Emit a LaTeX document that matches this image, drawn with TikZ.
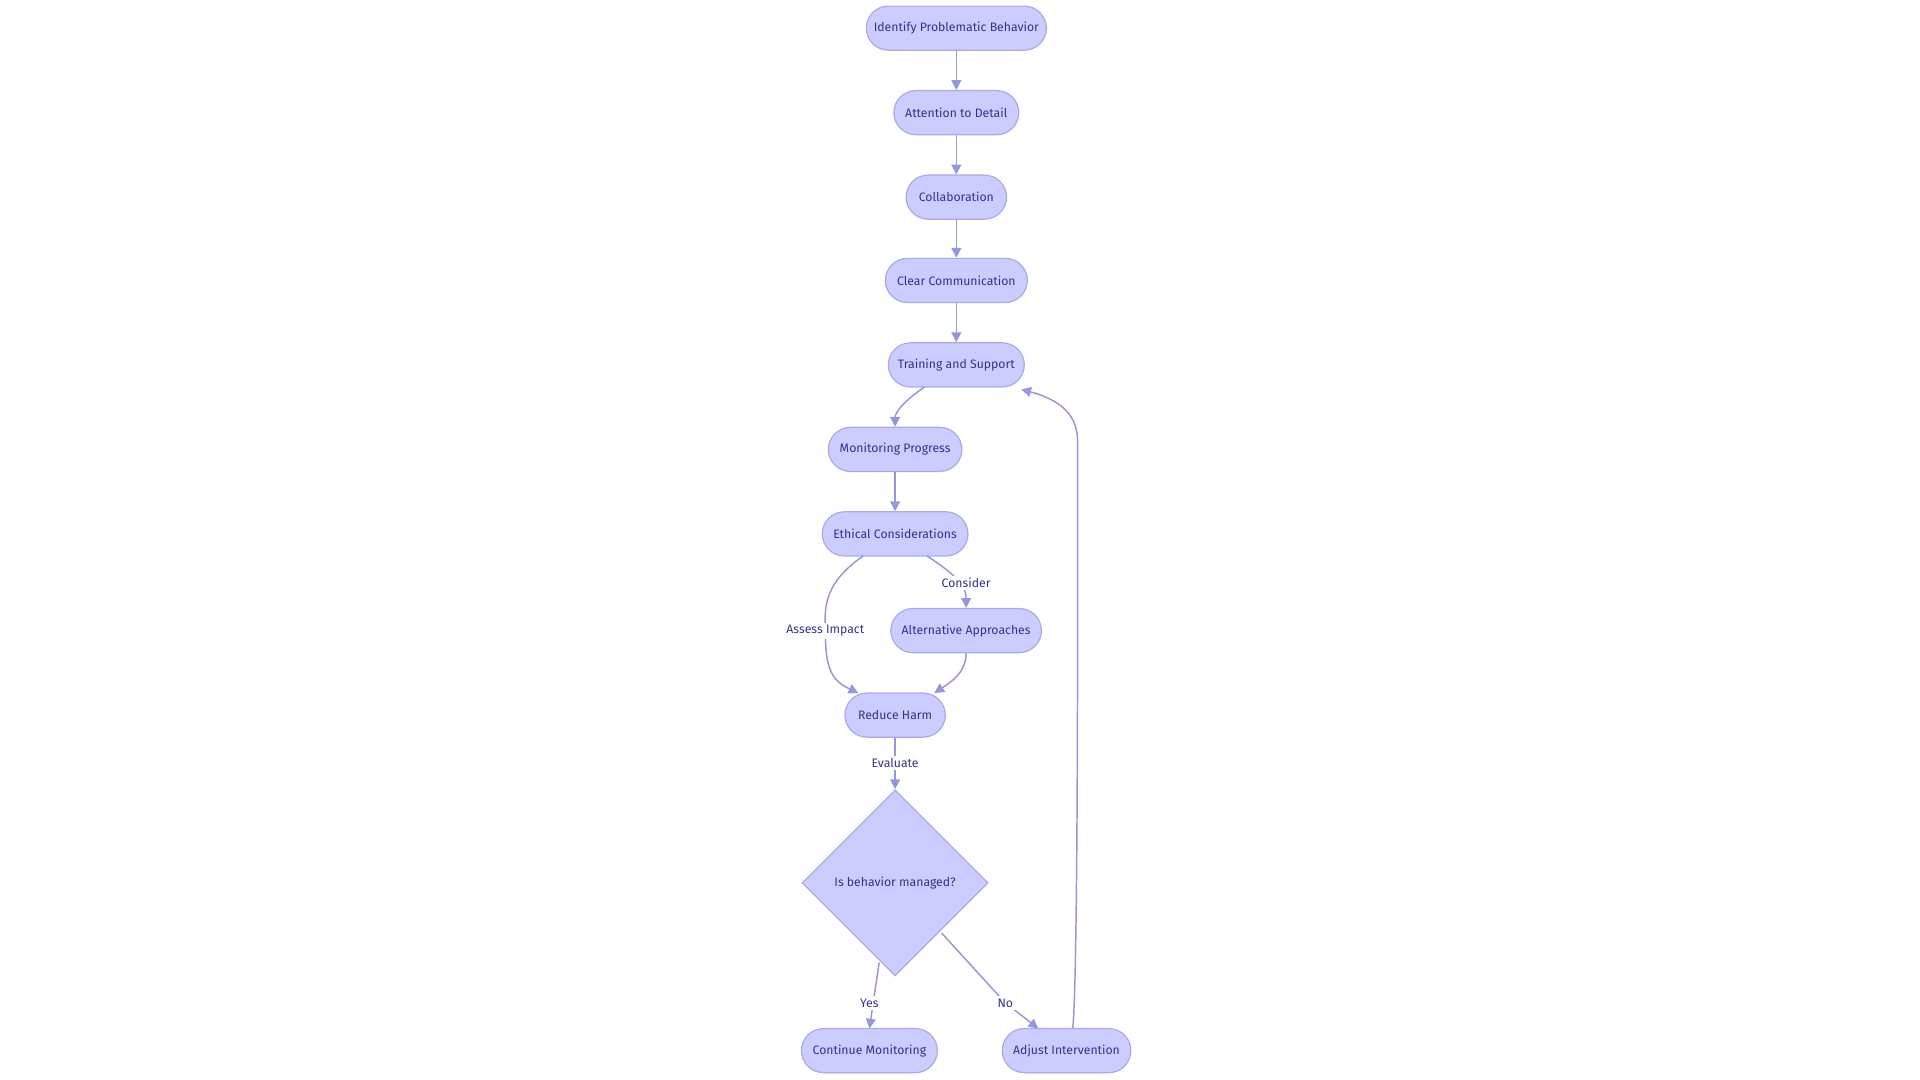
\documentclass[tikz,border=0pt]{standalone}
\usepackage{fontspec}
\setmainfont{Fira Sans}
\usetikzlibrary{shapes.geometric,arrows.meta}
\definecolor{nfill}{RGB}{204,204,255}
\definecolor{nline}{RGB}{170,170,235}
\definecolor{ntext}{RGB}{51,51,140}
\definecolor{eline}{RGB}{150,150,220}
\tikzset{
 box/.style={draw=nline,fill=nfill,rounded corners=9pt,minimum height=18pt,text=ntext,font=\fontsize{5}{6}\selectfont,inner sep=0pt,line width=0.5pt},
 dia/.style={draw=nline,fill=nfill,diamond,minimum width=76pt,minimum height=76pt,text=ntext,font=\fontsize{5}{6}\selectfont,inner sep=0pt,line width=0.5pt,aspect=1},
 edge/.style={draw=eline,line width=0.6pt,-{Triangle[length=4pt,width=4pt]}},
 lbl/.style={fill=white,text=ntext,font=\fontsize{5}{6}\selectfont,inner sep=1pt}
}
\begin{document}
\begin{tikzpicture}[x=0.5pt,y=-0.5pt]
\useasboundingbox (0,0) rectangle (1568,882);
\node[box,minimum width=73.5pt] (a) at (781,23) {Identify Problematic Behavior};
\node[box,minimum width=51pt] (b) at (781,92) {Attention to Detail};
\node[box,minimum width=41pt] (c) at (781,161) {Collaboration};
\node[box,minimum width=58pt] (d) at (781,229) {Clear Communication};
\node[box,minimum width=55.5pt] (e) at (781,298) {Training and Support};
\node[box,minimum width=54.5pt] (f) at (731,367) {Monitoring Progress};
\node[box,minimum width=59.5pt] (g) at (731,436) {Ethical Considerations};
\node[box,minimum width=61.5pt] (h) at (789,515) {Alternative Approaches};
\node[box,minimum width=41pt] (i) at (731,584) {Reduce Harm};
\node[dia] (j) at (731,721) {Is behavior managed?};
\node[box,minimum width=55.5pt] (k) at (710,858) {Continue Monitoring};
\node[box,minimum width=52.5pt] (l) at (871,858) {Adjust Intervention};
\draw[edge] (a) -- (b);
\draw[edge] (b) -- (c);
\draw[edge] (c) -- (d);
\draw[edge] (d) -- (e);
\draw[edge] (755,316) .. controls (735,330) and (731,338) .. (f.north);
\draw[edge] (f) -- (g);
\draw[edge] (705,454) .. controls (670,478) and (674,500) .. (674,515) .. controls (674,548) and (680,556) .. (701,566);
\node[lbl] (la) at (674,515) {Assess Impact};
\draw[edge] (757,454) .. controls (775,466) and (789,476) .. (h.north);
\node[lbl] (lc) at (789,476) {Consider};
\draw[edge] (h.south) .. controls (789,550) and (775,558) .. (763,566);
\draw[edge] (i) -- (j.north);
\node[lbl] (le) at (731,623) {Evaluate};
\draw[edge] (718,786) -- (710,840);
\node[lbl] (ly) at (710,819) {Yes};
\draw[edge] (769,762) -- (821,819) -- (848,840);
\node[lbl] (ln) at (821,819) {No};
\draw[edge] (876,840) .. controls (881,800) and (880,400) .. (880,360) .. controls (880,335) and (860,325) .. (834,318);
\end{tikzpicture}
\end{document}
